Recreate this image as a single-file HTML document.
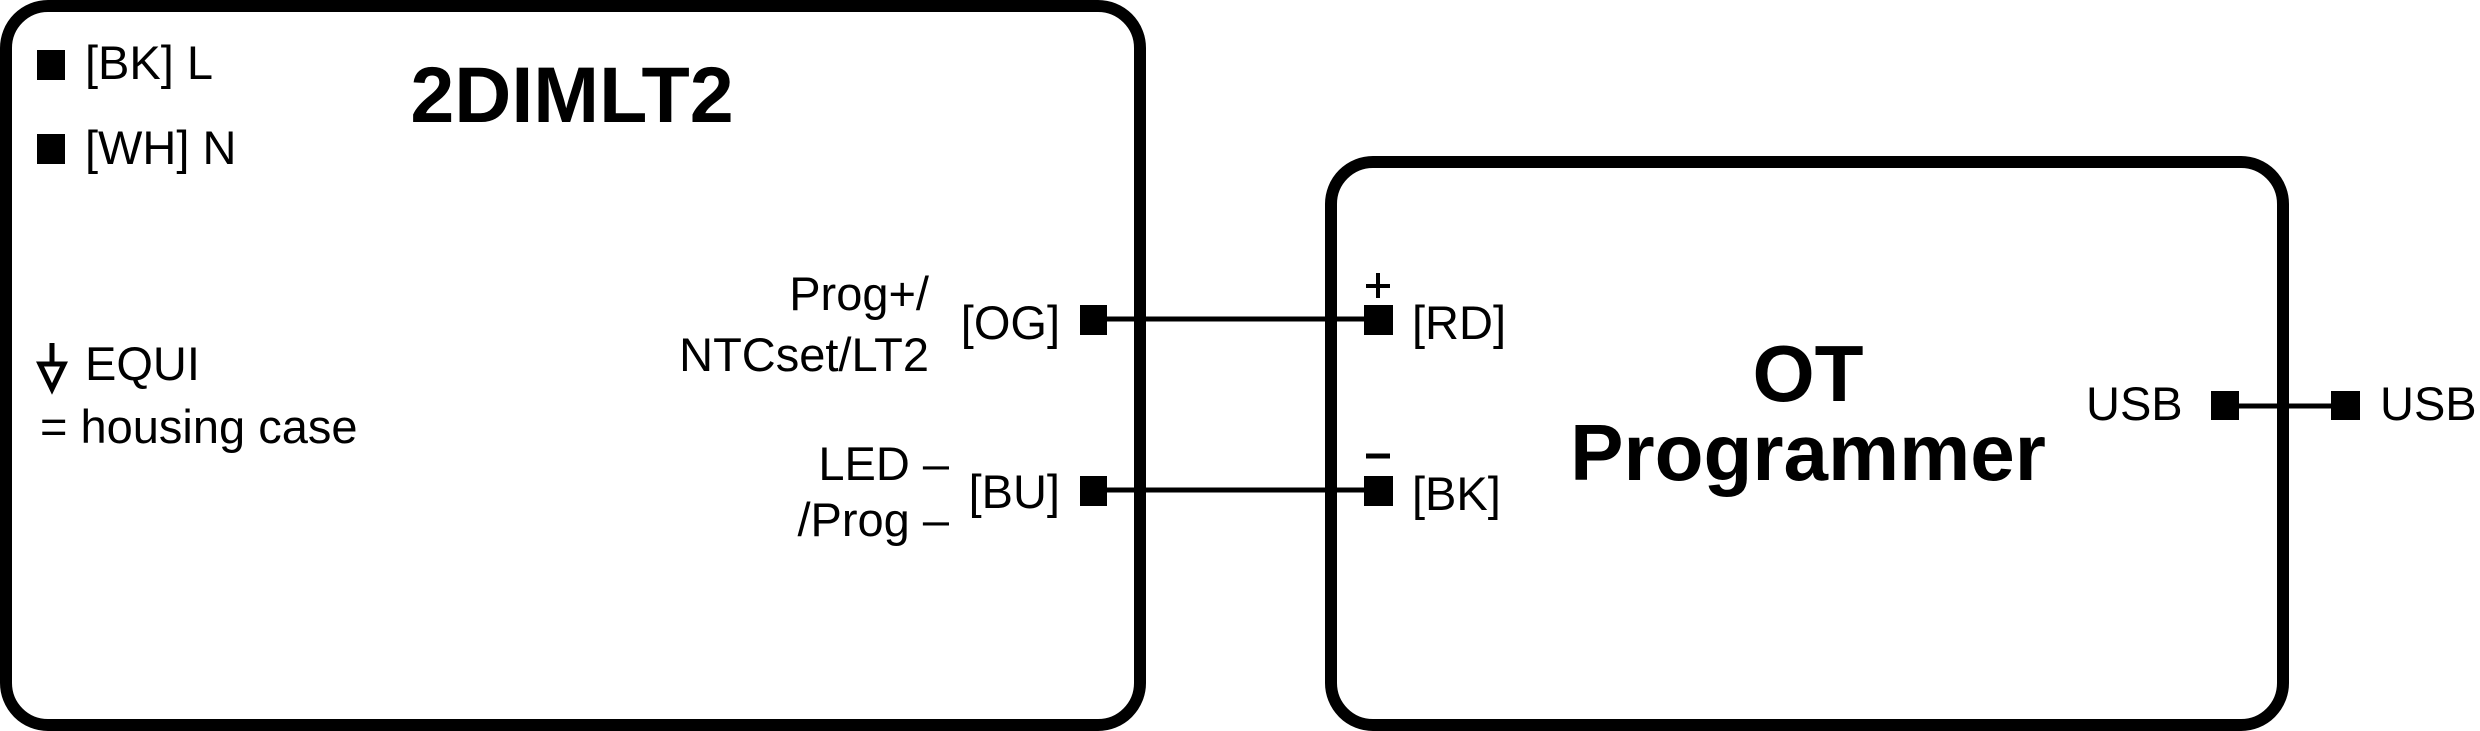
<!DOCTYPE html>
<html><head><meta charset="utf-8"><style>
html,body{margin:0;padding:0;background:#fff;}
svg{display:block;}
text{font-family:"Liberation Sans",Arial,sans-serif;fill:#000;}
</style></head><body>
<svg width="2480" height="731" viewBox="0 0 2480 731" xmlns="http://www.w3.org/2000/svg">
<rect x="6" y="6" width="1134" height="719" rx="42" ry="42" fill="none" stroke="#000" stroke-width="12"/>
<rect x="1331" y="162" width="952" height="563" rx="42" ry="42" fill="none" stroke="#000" stroke-width="12"/>

<text x="572" y="122" font-size="79" font-weight="bold" text-anchor="middle">2DIMLT2</text>
<text x="1808" y="401" font-size="80" font-weight="bold" text-anchor="middle">OT</text>
<text x="1808" y="480" font-size="80" font-weight="bold" text-anchor="middle">Programmer</text>

<rect x="37" y="50" width="28" height="30"/>
<text x="85" y="79" font-size="47">[BK] L</text>
<rect x="37" y="134" width="28" height="30"/>
<text x="85" y="164" font-size="47">[WH] N</text>

<line x1="52" y1="343" x2="52" y2="364" stroke="#000" stroke-width="5"/>
<polygon points="40,364 64,364 52,389" fill="none" stroke="#000" stroke-width="5"/>
<text x="85" y="380" font-size="47">EQUI</text>
<text x="40" y="443" font-size="47">= housing case</text>

<text x="929" y="310" font-size="47" text-anchor="end">Prog+/</text>
<text x="929" y="371" font-size="47" text-anchor="end">NTCset/LT2</text>
<text x="1060" y="339" font-size="47" text-anchor="end">[OG]</text>
<text x="949" y="480" font-size="47" text-anchor="end">LED –</text>
<text x="949" y="536" font-size="47" text-anchor="end">/Prog –</text>
<text x="1060" y="508" font-size="47" text-anchor="end">[BU]</text>

<rect x="1080" y="305" width="27" height="30"/>
<rect x="1080" y="476" width="27" height="30"/>
<line x1="1106" y1="319" x2="1365" y2="319" stroke="#000" stroke-width="5"/>
<line x1="1106" y1="490" x2="1365" y2="490" stroke="#000" stroke-width="5"/>
<rect x="1364" y="305" width="29" height="30"/>
<rect x="1364" y="476" width="29" height="30"/>
<line x1="1378" y1="273" x2="1378" y2="298" stroke="#000" stroke-width="4"/>
<line x1="1366" y1="286" x2="1390" y2="286" stroke="#000" stroke-width="4"/>
<line x1="1366" y1="456" x2="1390" y2="456" stroke="#000" stroke-width="5"/>
<text x="1412" y="339" font-size="47">[RD]</text>
<text x="1412" y="510" font-size="47">[BK]</text>

<text x="2086" y="420" font-size="47">USB</text>
<rect x="2211" y="391" width="28" height="29"/>
<line x1="2239" y1="406" x2="2331" y2="406" stroke="#000" stroke-width="5"/>
<rect x="2331" y="391" width="29" height="29"/>
<text x="2380" y="420" font-size="47">USB</text>
</svg>
</body></html>
